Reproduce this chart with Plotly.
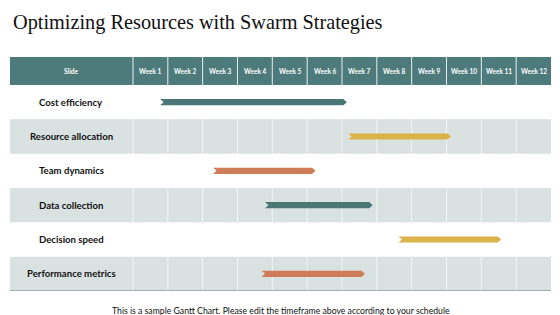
import plotly.graph_objects as go

title = "Optimizing Resources with Swarm Strategies"
footer = "This is a sample Gantt Chart. Please edit the timeframe above according to your schedule"
header_first = "Slide"
weeks = ["Week 1", "Week 2", "Week 3", "Week 4", "Week 5", "Week 6",
         "Week 7", "Week 8", "Week 9", "Week 10", "Week 11", "Week 12"]
tasks = ["Cost efficiency", "Resource allocation", "Team dynamics",
         "Data collection", "Decision speed", "Performance metrics"]
# bar start / end measured in weeks from the start of Week 1
bar_start = [0.78, 6.18, 2.30, 3.79, 7.62, 3.69]
bar_end = [6.14, 9.13, 5.24, 6.88, 10.57, 6.66]
bar_colors = ["#4a7776", "#dcb24b", "#cf7d58", "#4a7776", "#dcb24b", "#cf7d58"]

HEADER_BG = "#4d7b7b"
STRIPE = "#d9e1e1"
SLIDE_W = 3.53      # width of the label column in week units
HDR_H = 0.816       # header height in row units
n_rows = len(tasks)
n_weeks = len(weeks)

fig = go.Figure()
shapes = []
annotations = []

# header background
shapes.append(dict(type="rect", xref="x", yref="y", x0=-SLIDE_W, x1=n_weeks,
                   y0=0, y1=HDR_H, fillcolor=HEADER_BG, line_width=0, layer="below"))
# striped rows
for i in range(n_rows):
    if i % 2 == 1:
        shapes.append(dict(type="rect", xref="x", yref="y", x0=-SLIDE_W, x1=n_weeks,
                           y0=HDR_H + i, y1=HDR_H + i + 1, fillcolor=STRIPE,
                           line_width=0, layer="below"))
        for k in range(n_weeks):
            shapes.append(dict(type="line", xref="x", yref="y", x0=k, x1=k,
                               y0=HDR_H + i, y1=HDR_H + i + 1,
                               line=dict(color="#f4f6f6", width=1), layer="below"))
# header separators
for k in range(n_weeks):
    shapes.append(dict(type="line", xref="x", yref="y", x0=k, x1=k, y0=0, y1=HDR_H,
                       line=dict(color="#e8eeee", width=1), layer="below"))
# bottom rule
shapes.append(dict(type="line", xref="x", yref="y", x0=-SLIDE_W, x1=n_weeks,
                   y0=HDR_H + n_rows, y1=HDR_H + n_rows,
                   line=dict(color="#8a9c9c", width=1.5)))

# header text
annotations.append(dict(x=-SLIDE_W / 2, y=HDR_H / 2, xref="x", yref="y", text=header_first,
                        showarrow=False, font=dict(family="Lato", size=6.5, color="white", weight="bold")))
for k, w in enumerate(weeks):
    annotations.append(dict(x=k + 0.5, y=HDR_H / 2, xref="x", yref="y", text=w,
                            showarrow=False, font=dict(family="Lato", size=6.5, color="white", weight="bold")))
# row labels
for i, t in enumerate(tasks):
    annotations.append(dict(x=-SLIDE_W / 2, y=HDR_H + i + 0.5, xref="x", yref="y", text=t,
                            showarrow=False, font=dict(family="Lato", size=9.6, color="#111111", weight="bold")))

# bars as chevron polygons
hh = 0.09
tip = 0.1
for i, (s, e, c) in enumerate(zip(bar_start, bar_end, bar_colors)):
    yc = HDR_H + i + 0.5
    xs = [s, e - tip, e, e - tip, s, s + tip, s]
    ys = [yc - hh, yc - hh, yc, yc + hh, yc + hh, yc, yc - hh]
    fig.add_trace(go.Scatter(x=xs, y=ys, fill="toself", fillcolor=c, mode="lines",
                             line=dict(width=0, color=c), hoverinfo="skip", showlegend=False))

fig.update_layout(
    width=560, height=315,
    margin=dict(l=10, r=9, t=57, b=24),
    paper_bgcolor="white", plot_bgcolor="white",
    shapes=shapes, annotations=annotations,
    xaxis=dict(range=[-SLIDE_W, n_weeks], visible=False, fixedrange=True),
    yaxis=dict(range=[HDR_H + n_rows, 0], visible=False, fixedrange=True),
    title=dict(text=title, x=13 / 560, xanchor="left", y=1 - 22 / 315, yanchor="middle",
               font=dict(family="Liberation Serif", size=20.3, color="#111111")),
    showlegend=False,
)
fig.add_annotation(x=0.5, y=-19 / 234, xref="paper", yref="paper", text=footer, showarrow=False,
                   yanchor="middle", font=dict(family="Lato", size=8.7, color="#111111"))

fig.write_html("out.html")
